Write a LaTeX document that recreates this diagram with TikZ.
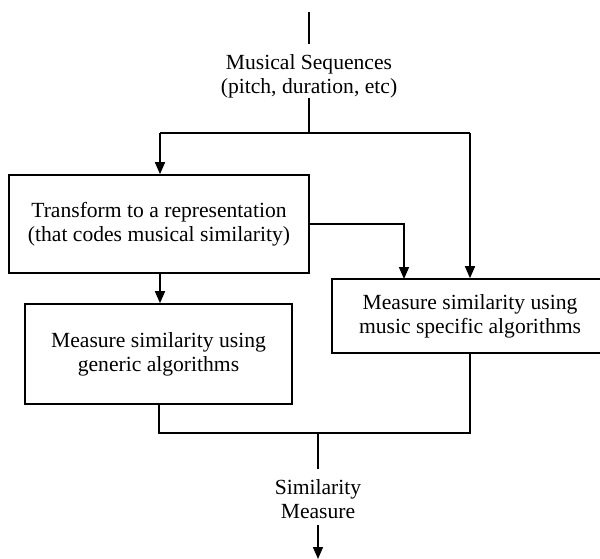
\documentclass[tikz,border=0pt]{standalone}
\usepackage{fontspec}
\setmainfont{Liberation Serif}
\usetikzlibrary{arrows.meta}
\begin{document}
\begin{tikzpicture}[x=1pt,y=-1pt,
  line width=1.6pt,
  every node/.style={font=\fontsize{21.6}{24}\selectfont, align=center, inner sep=0pt},
  box/.style={draw, rectangle, line width=1.6pt},
  arr/.style={-{Triangle[length=12pt,width=10pt]}},
]
\useasboundingbox (0,0) rectangle (600,559);

% input
\coordinate (top) at (309,12);
\node (ms) at (309,76) {Musical Sequences\\(pitch, duration, etc)};
\coordinate (msT) at (309,44);
\coordinate (msB) at (309,98);
\coordinate (split) at (309,133);
\coordinate (splitL) at (160,133);
\coordinate (splitR) at (470,133);

% boxes
\node[box, minimum width=300pt, minimum height=98pt] (tr) at (159,224) {Transform to a representation\\(that codes musical similarity)};
\node[box, minimum width=267pt, minimum height=100pt] (gen) at (158.5,354) {Measure similarity using\\generic algorithms};
\node[box, minimum width=276pt, minimum height=74pt] (mus) at (470,316) {Measure similarity using\\music specific algorithms};

% output
\coordinate (join) at (318,433);
\coordinate (joinL) at (159,433);
\coordinate (joinR) at (470,433);
\node (sm) at (318,499) {Similarity\\Measure};
\coordinate (smT) at (318,469);
\coordinate (smB) at (318,525);
\coordinate (out) at (318,559);

% connectors
\draw (top) -- (msT);
\draw (msB) -- (split);
\draw (splitL) -- (splitR);
\draw[arr] (splitL) -- (tr.north -| splitL);
\draw[arr] (splitR) -- (mus.north -| splitR);
\draw[arr] (tr.east |- 0,224) -- (404,224) -- (404,279);
\draw[arr] (tr.south -| 160,0) -- (gen.north -| 160,0);
\draw (gen.south -| joinL) -- (joinL) -- (joinR) -- (mus.south -| joinR);
\draw (join) -- (smT);
\draw[arr] (smB) -- (out);
\end{tikzpicture}
\end{document}
